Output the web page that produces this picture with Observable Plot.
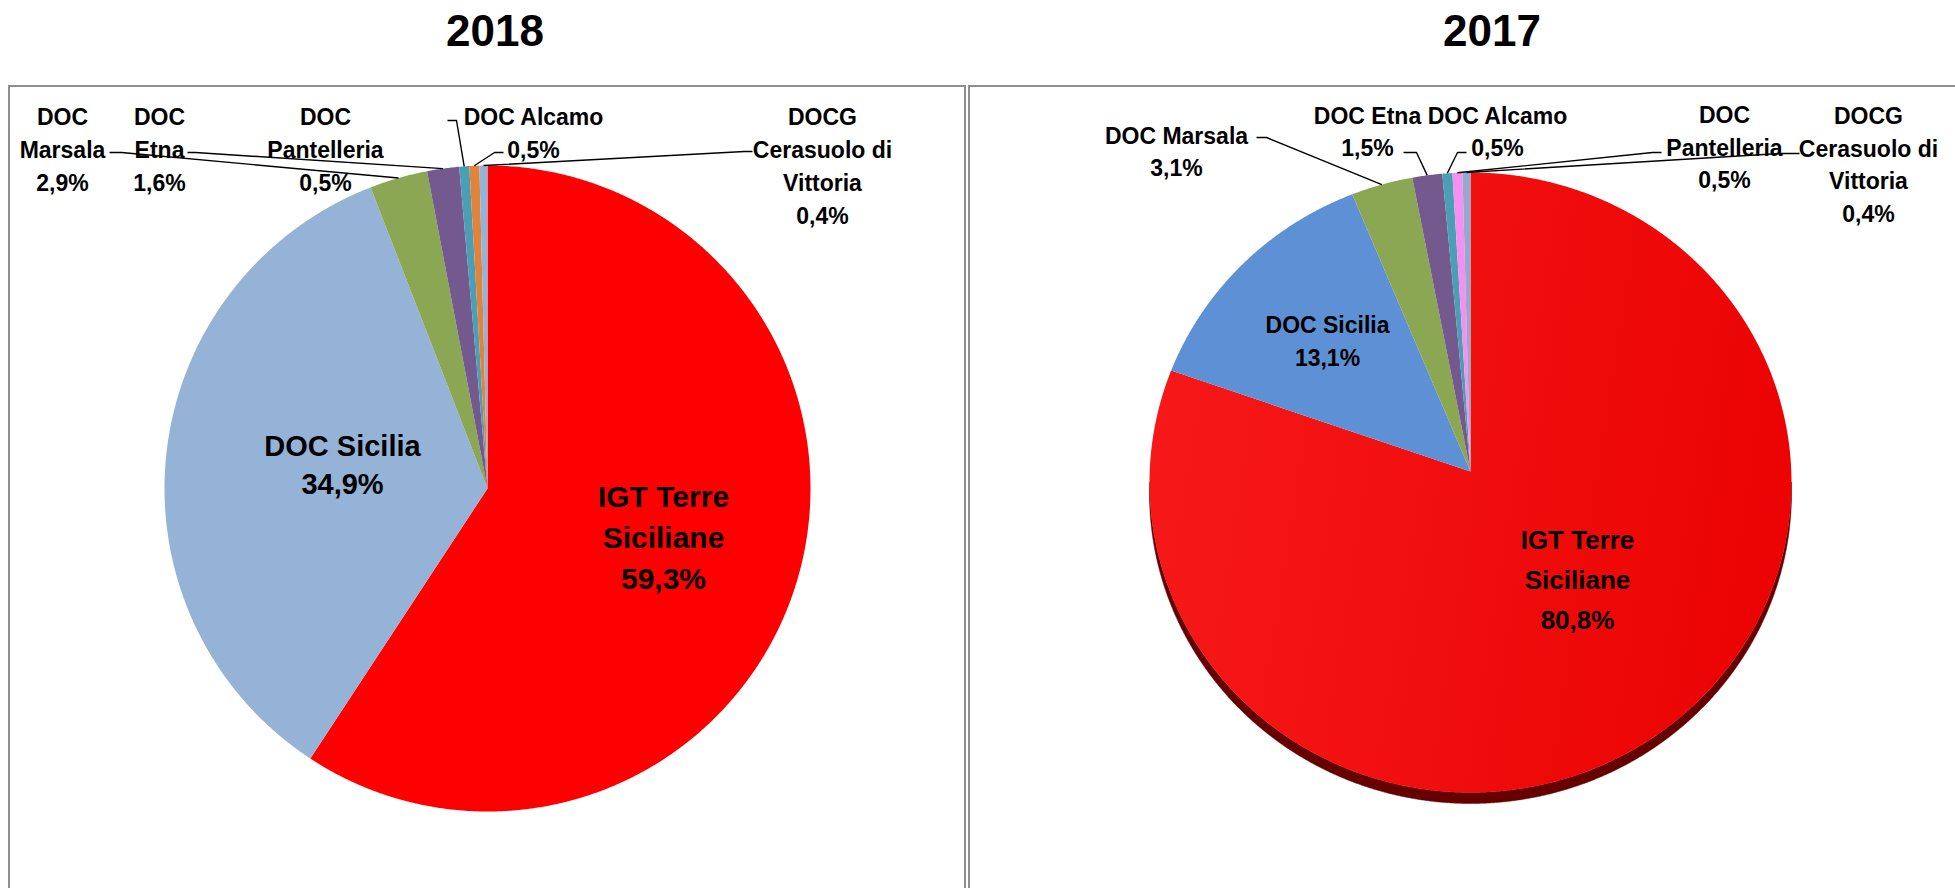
<!DOCTYPE html>
<html><head><meta charset="utf-8">
<script src="https://cdn.jsdelivr.net/npm/d3@7"></script>
<script src="https://cdn.jsdelivr.net/npm/@observablehq/plot@0.6"></script>
<style>
body{margin:0;background:#fff;width:1955px;height:888px;overflow:hidden;position:relative;font-family:"Liberation Sans",Arial,sans-serif;}
.title{position:absolute;top:0;font-weight:bold;font-size:44px;line-height:62px;transform:translateX(-50%);color:#000;}
.panel{position:absolute;top:85px;border:2px solid #8e8e8e;border-bottom:none;box-sizing:border-box;height:830px;}
.chart{position:absolute;}
</style></head><body>
<div class="title" style="left:495px">2018</div>
<div class="title" style="left:1492px">2017</div>
<div class="panel" style="left:8px;width:958px"></div>
<div class="panel" style="left:968px;width:1010px"></div>
<div id="c2018" class="chart" style="left:10px;top:87px"></div>
<div id="c2017" class="chart" style="left:970px;top:87px"></div>
<script>
// ---------- DATA ----------
const categories2018 = ["IGT Terre Siciliane","DOC Sicilia","DOC Marsala","DOC Etna","DOC Pantelleria","DOC Alcamo","DOCG Cerasuolo di Vittoria"];
const values2018 = [59.3, 34.9, 2.9, 1.6, 0.5, 0.5, 0.4];
const labelNames2018 = ["IGT Terre\nSiciliane","DOC Sicilia","DOC\nMarsala","DOC\nEtna","DOC\nPantelleria","DOC Alcamo","DOCG\nCerasuolo di\nVittoria"];

const categories2017 = ["IGT Terre Siciliane","DOC Sicilia","DOC Marsala","DOC Etna","DOC Alcamo","DOC Pantelleria","DOCG Cerasuolo di Vittoria"];
const values2017 = [80.8, 13.1, 3.1, 1.5, 0.5, 0.5, 0.4];
const labelNames2017 = ["IGT Terre\nSiciliane","DOC Sicilia","DOC Marsala","DOC Etna","DOC Alcamo","DOC\nPantelleria","DOCG\nCerasuolo di\nVittoria"];

// ---------- STYLE / LAYOUT ----------
const colors2018 = ["#FF0000","#95B3D7","#8BA753","#74598F","#4A9FB5","#E0843C","#95B3D7"];
const colors2017 = ["url(#red2017)","#5D90D4","#8BA753","#74598F","#4A9FB5","#F590F0","#95A9D0"];
const side2017 = "#660000";

const layout2018 = {el:"#c2018", width:954, height:801, cx:477, cy:401, rx:323, ry:323, apex:0, depth:0,
  labelPos:[[176,46],[-145,-26],[-425,-341],[-328,-341],[-162,-341],[46,-358],[335,-325]],
  fontSize:[30,29,23,23,23,23,23],
  lineH:[41,38,33,33,33,33,33],
  leaders:[null,null,[[-378,-336],[-366,-336]],[[-300,-336],[-292,-336]],[[-40,-368],[-31,-368]],[[16,-336],[7,-336]],[[265,-337],[257,-337]]]
};
const layout2017 = {el:"#c2017", width:985, height:801, cx:500, cy:395, rx:321, ry:310, apex:11, depth:11,
  labelPos:[[107,94],[-143,-144],[-294,-333],[-103,-353],[27,-353],[254,-337],[398,-320]],
  fontSize:[26,23,23,23,23,23,23],
  lineH:[40,33,32.5,32.5,32.5,32.5,32.5],
  leaders:[null,null,[[-214,-345],[-204,-345]],[[-67,-330],[-54,-330]],[[-4,-330],[-13,-330]],[[191,-330],[182,-330]],[[329,-329],[310,-329]]]
};

const fmt = v => d3.format(".1f")(v).replace(".", ",") + "%";

function drawPie(values, labelNames, colors, L, sideColor, gradient) {
  const arcs = d3.pie().sort(null).value(d => d)(values);
  const toX = px => px / L.rx, toY = py => -py / L.ry;
  const step = Math.PI / 720;
  const slices = [];
  arcs.forEach((a, i) => {
    slices.push({k: i, x: 0, y: toY(-L.apex), fill: colors[i]});
    const n = Math.max(2, Math.ceil((a.endAngle - a.startAngle) / step));
    for (let j = 0; j <= n; j++) {
      const t = a.startAngle + (a.endAngle - a.startAngle) * j / n;
      slices.push({k: i, x: Math.sin(t), y: Math.cos(t), fill: colors[i]});
    }
  });
  const side = [];
  if (L.depth) {
    const d = L.depth / L.ry;
    arcs.forEach((a, i) => {
      const s = Math.max(a.startAngle, Math.PI / 2), e = Math.min(a.endAngle, 3 * Math.PI / 2);
      if (e <= s) return;
      const n = Math.max(2, Math.ceil((e - s) / step));
      const top = [], bot = [];
      for (let j = 0; j <= n; j++) {
        const t = s + (e - s) * j / n;
        top.push({k: i, x: Math.sin(t), y: Math.cos(t)});
        bot.push({k: i, x: Math.sin(t), y: Math.cos(t) - d});
      }
      side.push(...top, ...bot.reverse());
    });
  }
  const leaders = [];
  arcs.forEach((a, i) => {
    const ld = L.leaders[i];
    if (!ld) return;
    const mid = (a.startAngle + a.endAngle) / 2;
    leaders.push({k: i, x: toX(ld[0][0]), y: toY(ld[0][1])});
    leaders.push({k: i, x: toX(ld[1][0]), y: toY(ld[1][1])});
    leaders.push({k: i, x: Math.sin(mid), y: Math.cos(mid)});
  });
  const textMarks = values.map((v, i) => Plot.text([{x: toX(L.labelPos[i][0]), y: toY(L.labelPos[i][1]), t: labelNames[i] + "\n" + fmt(v)}], {
    x: "x", y: "y", text: "t", fontSize: L.fontSize[i], fontWeight: "bold", fill: "#000",
    lineHeight: L.lineH[i] / L.fontSize[i], textAnchor: "middle", lineAnchor: "middle"
  }));
  const marks = [];
  if (side.length) marks.push(Plot.line(side, {x: "x", y: "y", z: "k", fill: sideColor, stroke: sideColor, strokeWidth: 0.5, curve: "linear-closed"}));
  marks.push(Plot.line(slices, {x: "x", y: "y", z: "k", fill: "fill", stroke: null, curve: "linear-closed"}));
  marks.push(Plot.line(leaders, {x: "x", y: "y", z: "k", stroke: "#000", strokeWidth: 1.4, fill: "none", curve: "linear", strokeLinecap: "butt"}));
  marks.push(...textMarks);
  const svg = Plot.plot({
    width: L.width, height: L.height, margin: 0,
    x: {domain: [-L.cx / L.rx, (L.width - L.cx) / L.rx], range: [0, L.width], axis: null},
    y: {domain: [L.cy / L.ry, -(L.height - L.cy) / L.ry], range: [0, L.height], axis: null},
    color: {type: "identity"},
    style: {fontFamily: "'Liberation Sans', Arial, sans-serif", background: "transparent", overflow: "visible"},
    marks
  });
  if (gradient) {
    const defs = d3.select(svg).insert("defs", ":first-child");
    const g = defs.append("linearGradient").attr("id", gradient.id).attr("x1", "0").attr("x2", "1").attr("y1", "0").attr("y2", "0.15");
    g.append("stop").attr("offset", "0%").attr("stop-color", gradient.from);
    g.append("stop").attr("offset", "100%").attr("stop-color", gradient.to);
  }
  document.querySelector(L.el).appendChild(svg);
}

drawPie(values2018, labelNames2018, colors2018, layout2018, null, null);
drawPie(values2017, labelNames2017, colors2017, layout2017, side2017, {id: "red2017", from: "#F71A1A", to: "#EC0404"});
</script>
</body></html>
